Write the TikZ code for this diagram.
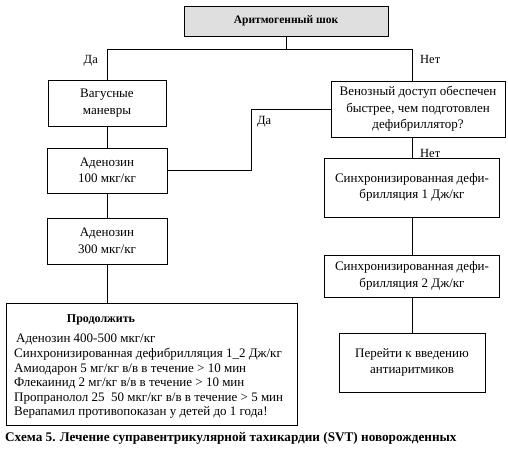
\documentclass[tikz,border=0pt]{standalone}
\usepackage{fontspec}
\setmainfont{Liberation Serif}
\tikzset{
  box/.style={draw, line width=0.6pt, align=center, inner sep=0pt,
    font=\fontsize{13}{16.5}\selectfont},
  lbl/.style={font=\fontsize{12.5}{14}\selectfont, inner sep=0pt},
  link/.style={line width=0.6pt}
}
\begin{document}
\begin{tikzpicture}[x=1pt,y=-1pt]
\useasboundingbox (0,0) rectangle (508,457);
\node[box, fill=gray!25, minimum width=204, minimum height=30,
  font=\bfseries\fontsize{11.5}{13}\selectfont] (shock) at (286,21) {Аритмогенный шок};
\node[box, minimum width=118, minimum height=46] (vagus) at (107,103) {Вагусные\\маневры};
\node[box, minimum width=120, minimum height=45] (aden1) at (107,170.5) {Аденозин\\100 мкг/кг};
\node[box, minimum width=120, minimum height=46] (aden2) at (107,241) {Аденозин\\300 мкг/кг};
\node[box, minimum width=291, minimum height=122] (cont) at (151.5,364) {};
\node[font=\bfseries\fontsize{12}{14}\selectfont, inner sep=0pt] (conthead) at (101,320) {Продолжить};
\node[anchor=north west, align=left, inner sep=0pt,
  font=\fontsize{13}{14.6}\selectfont] (contlist) at (14,334)
  {\hspace{2pt}Аденозин 400-500 мкг/кг\\
   Синхронизированная дефибрилляция 1\_2 Дж/кг\\
   Амиодарон 5 мг/кг в/в в течение > 10 мин\\
   Флекаинид 2 мг/кг в/в в течение > 10 мин\\
   Пропранолол 25~ 50 мкг/кг в/в в течение > 5 мин\\
   Верапамил противопоказан у детей до 1 года!};
\node[box, minimum width=174, minimum height=56] (venous) at (418,109)
  {Венозный доступ обеспечен\\быстрее, чем подготовлен\\дефибриллятор?};
\node[box, minimum width=175, minimum height=59] (sync1) at (412,187.5)
  {Синхронизированная дефи-\\брилляция 1 Дж/кг};
\node[box, minimum width=175, minimum height=42] (sync2) at (412,276)
  {Синхронизированная дефи-\\брилляция 2 Дж/кг};
\node[box, minimum width=146, minimum height=59] (goto) at (412,362.5)
  {Перейти к введению\\антиаритмиков};

\coordinate (split) at (shock.south |- 0,49);
\coordinate (yesturn) at (251,109);
\draw[link] (shock.south) -- (split);
\draw[link] (split) -| (vagus.north);
\draw[link] (split) -| (sync1.north |- venous.north);
\draw[link] (vagus) -- (aden1);
\draw[link] (aden1) -- (aden2);
\draw[link] (aden2.south) -- (aden2.south |- cont.north);
\draw[link] (venous.west) -- (yesturn) |- (aden1.east);
\draw[link] (sync1.north |- venous.south) -- (sync1.north);
\draw[link] (sync1) -- (sync2);
\draw[link] (sync2) -- (goto);

\node[lbl, anchor=east] (yes1) at (98,61) {Да};
\node[lbl, anchor=west] (no1) at (420,59) {Нет};
\node[lbl, anchor=west] (yes2) at (257,122) {Да};
\node[lbl, anchor=west] (no2) at (420,153) {Нет};

\node[anchor=west, inner sep=0pt, font=\bfseries\fontsize{13.2}{14}\selectfont] (caption) at (5,438)
  {Схема 5. Лечение суправентрикулярной тахикардии (SVT) новорожденных};
\end{tikzpicture}
\end{document}
